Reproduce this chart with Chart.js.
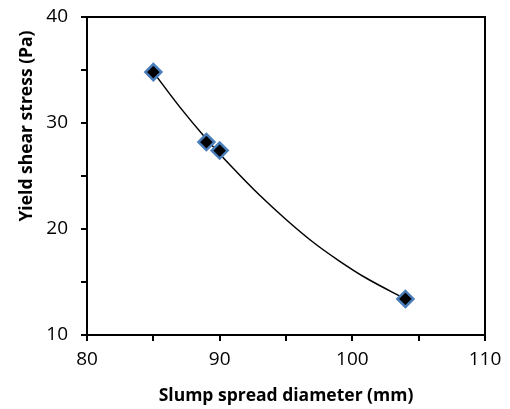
<!DOCTYPE html>
<html>
<head>
<meta charset="utf-8">
<script src="https://cdn.jsdelivr.net/npm/chart.js@4/dist/chart.umd.min.js"></script>
<style>
html,body{margin:0;padding:0;background:#fff;}
#wrap{width:510px;height:409px;}
</style>
</head>
<body>
<div id="wrap"><canvas id="c" width="510" height="409"></canvas></div>
<script>
// Measured data
const slumpDiameter = [85, 89, 90, 104];
const yieldStress = [34.8, 28.2, 27.4, 13.4];
// Trend curve
const trendX = [85, 87, 89, 91, 93, 95, 97, 99, 101, 104];
const trendY = [34.8, 31.5, 28.5, 25.75, 23.2, 20.9, 18.8, 17.0, 15.4, 13.4];
// Axis settings
const xTicks = [80, 90, 100, 110];
const yTicks = [10, 20, 30, 40];
const xTitle = 'Slump spread diameter (mm)';
const yTitle = 'Yield shear stress (Pa)';

const FONT = "'Open Sans', sans-serif";

const framePlugin = {
  id: 'frame',
  beforeDatasetsDraw(chart) {
    const {ctx, chartArea: a} = chart;
    ctx.save();
    ctx.strokeStyle = '#000';
    ctx.lineWidth = 2;
    ctx.strokeRect(a.left, a.top, a.right - a.left, a.bottom - a.top);
    ctx.restore();
  },
  afterDraw(chart) {
    const {ctx} = chart;
    ctx.save();
    ctx.fillStyle = '#000';
    ctx.font = "bold 17.5px " + FONT;
    ctx.textAlign = 'center';
    ctx.textBaseline = 'middle';
    ctx.fillText(xTitle, 286, 396);
    ctx.translate(27, 126);
    ctx.rotate(-Math.PI / 2);
    ctx.fillText(yTitle, 0, 0);
    ctx.restore();
  }
};

new Chart(document.getElementById('c'), {
  type: 'scatter',
  data: {
    datasets: [
      {
        label: 'data',
        data: slumpDiameter.map((x, i) => ({x, y: yieldStress[i]})),
        pointStyle: 'rectRot',
        pointRadius: 8,
        pointBackgroundColor: '#000',
        pointBorderColor: '#4a7ebb',
        pointBorderWidth: 2.5,
        showLine: false,
        order: 0
      },
      {
        label: 'trend',
        data: trendX.map((x, i) => ({x, y: trendY[i]})),
        showLine: true,
        borderColor: '#000',
        borderWidth: 1.5,
        pointRadius: 0,
        cubicInterpolationMode: 'monotone',
        fill: false,
        order: 1
      }
    ]
  },
  plugins: [framePlugin],
  options: {
    responsive: false,
    animation: false,
    devicePixelRatio: 1,
    layout: {padding: {left: 0, top: 17, right: 25, bottom: 0}},
    plugins: {legend: {display: false}, tooltip: {enabled: false}},
    scales: {
      x: {
        type: 'linear',
        min: xTicks[0], max: xTicks[xTicks.length - 1],
        afterFit(s) { s.height = 74; s.paddingLeft = 0; s.paddingRight = 0; },
        border: {display: true, color: '#000', width: 2},
        grid: {drawOnChartArea: false, color: '#000', lineWidth: 2, tickLength: 6},
        ticks: {
          stepSize: 5,
          padding: 7,
          color: '#000',
          font: {family: FONT, size: 19},
          maxRotation: 0,
          callback: v => xTicks.includes(v) ? String(v) : ''
        }
      },
      y: {
        type: 'linear',
        min: yTicks[0], max: yTicks[yTicks.length - 1],
        afterFit(s) { s.width = 87; s.paddingTop = 0; s.paddingBottom = 0; },
        border: {display: true, color: '#000', width: 2},
        grid: {drawOnChartArea: false, color: '#000', lineWidth: 2, tickLength: 6},
        ticks: {
          stepSize: 5,
          padding: 13,
          color: '#000',
          font: {family: FONT, size: 19},
          callback: v => yTicks.includes(v) ? String(v) : ''
        }
      }
    }
  }
});
</script>
</body>
</html>
